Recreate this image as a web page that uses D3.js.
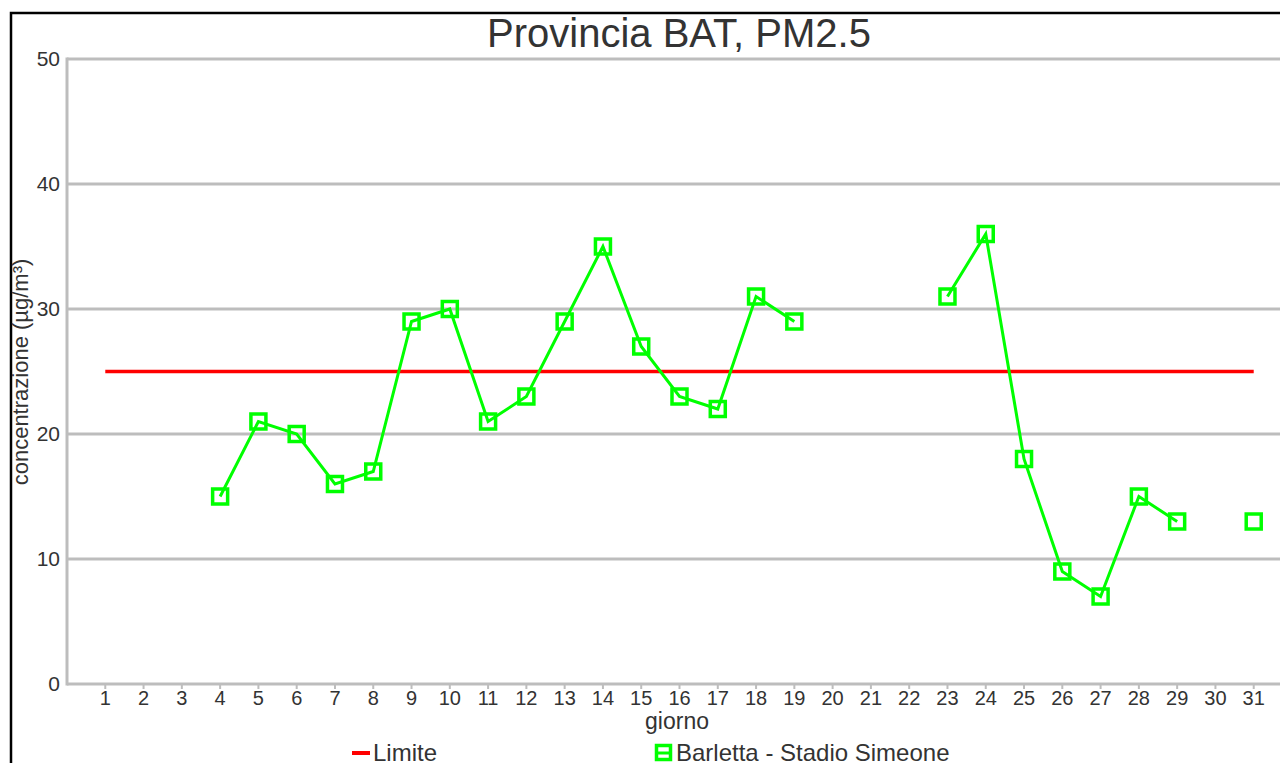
<!DOCTYPE html>
<html><head><meta charset="utf-8">
<script src="https://cdn.jsdelivr.net/npm/d3@7"></script>
<style>body{margin:0;background:#fff;overflow:hidden}text{font-family:"Liberation Sans",Arial,sans-serif}</style>
</head><body><svg id="c" width="1280" height="763"></svg>
<script>
const days = d3.range(1, 32);
const pm25 = [null,null,null,15,21,20,16,17,29,30,21,23,29,35,27,23,22,31,29,null,null,null,31,36,18,9,7,15,13,null,13];
const limite = 25;
const yTicks = [0,10,20,30,40,50];
const title = "Provincia BAT, PM2.5";
const seriesName = "Barletta - Stadio Simeone";
const limitName = "Limite";

const svg = d3.select("#c");
const x = d3.scaleLinear().domain([0, 32]).range([67, 1292]);
const y = d3.scaleLinear().domain([0, 50]).range([684, 59]);
const grid = "#bdbdbd", green = "#00ff00", red = "#ff0000", txt = "#333";

// outer border
svg.append("rect").attr("x", 11).attr("y", 13).attr("width", 1300).attr("height", 800)
  .attr("fill", "none").attr("stroke", "#000").attr("stroke-width", 2.5);

// grid
svg.selectAll(".g").data(yTicks).join("line")
  .attr("x1", x(0)).attr("x2", 1300).attr("y1", d => y(d)).attr("y2", d => y(d))
  .attr("stroke", grid).attr("stroke-width", 3);
svg.append("line").attr("x1", x(0)).attr("x2", x(0)).attr("y1", y(50) - 1.5).attr("y2", y(0) + 1.5)
  .attr("stroke", grid).attr("stroke-width", 3);
// x ticks
svg.selectAll(".xt").data(days).join("line")
  .attr("x1", d => x(d)).attr("x2", d => x(d)).attr("y1", y(0)).attr("y2", y(0) + 5)
  .attr("stroke", grid).attr("stroke-width", 2);

// y labels
svg.selectAll(".yl").data(yTicks).join("text")
  .attr("x", 60).attr("y", d => y(d)).attr("dy", "0.35em").attr("text-anchor", "end")
  .attr("font-size", 21).attr("fill", txt).text(d => d);
// x labels
svg.selectAll(".xl").data(days).join("text")
  .attr("x", d => x(d)).attr("y", 705).attr("text-anchor", "middle")
  .attr("font-size", 20).attr("fill", txt).text(d => d);

// axis titles
svg.append("text").attr("x", 677).attr("y", 729).attr("text-anchor", "middle")
  .attr("font-size", 23).attr("fill", txt).text("giorno");
svg.append("text").attr("transform", "translate(28,372) rotate(-90)").attr("text-anchor", "middle")
  .attr("font-size", 22).attr("fill", txt).text("concentrazione (µg/m³)");

// title
svg.append("text").attr("x", 679).attr("y", 47).attr("text-anchor", "middle")
  .attr("font-size", 40).attr("fill", txt).text(title);

// limit line
svg.append("line").attr("x1", x(1)).attr("x2", x(31)).attr("y1", y(limite)).attr("y2", y(limite))
  .attr("stroke", red).attr("stroke-width", 3.5);

// series
const pts = days.map((d, i) => ({d, v: pm25[i]}));
const line = d3.line().defined(p => p.v != null).x(p => x(p.d)).y(p => y(p.v));
svg.append("path").datum(pts).attr("d", line).attr("fill", "none")
  .attr("stroke", green).attr("stroke-width", 3);
svg.selectAll(".m").data(pts.filter(p => p.v != null)).join("rect")
  .attr("x", p => x(p.d) - 7.5).attr("y", p => y(p.v) - 7.5).attr("width", 15).attr("height", 15)
  .attr("fill", "none").attr("stroke", green).attr("stroke-width", 3.5);

// legend
svg.append("line").attr("x1", 352).attr("x2", 370).attr("y1", 753).attr("y2", 753)
  .attr("stroke", red).attr("stroke-width", 4);
svg.append("text").attr("x", 373).attr("y", 761).attr("font-size", 24).attr("fill", txt).text(limitName);
svg.append("rect").attr("x", 656.5).attr("y", 745.5).attr("width", 14).attr("height", 14)
  .attr("fill", "none").attr("stroke", green).attr("stroke-width", 3.5);
svg.append("line").attr("x1", 656).attr("x2", 671).attr("y1", 753).attr("y2", 753)
  .attr("stroke", green).attr("stroke-width", 3);
svg.append("text").attr("x", 676).attr("y", 761).attr("font-size", 24).attr("fill", txt).text(seriesName);
</script></body></html>
